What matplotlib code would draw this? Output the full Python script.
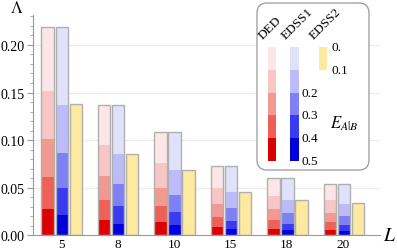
import numpy as np
import matplotlib
matplotlib.use("Agg")
import matplotlib.pyplot as plt
from matplotlib.patches import FancyBboxPatch
from matplotlib.ticker import MultipleLocator


# =========================
# Data
# =========================

L_VALUES = ["5", "8", "10", "15", "18", "20"]
E_THRESHOLDS = ["0.", "0.1", "0.2", "0.3", "0.4", "0.5"]

# Lambda for E_{A|B} >= 0, 0.1, 0.2, 0.3, 0.4 (one row per threshold)
DED = [
    [0.2187, 0.1366, 0.1086, 0.0728, 0.0605, 0.0539],
    [0.1518, 0.0945, 0.0756, 0.0500, 0.0419, 0.0374],
    [0.1016, 0.0623, 0.0503, 0.0335, 0.0276, 0.0240],
    [0.0616, 0.0374, 0.0307, 0.0195, 0.0163, 0.0145],
    [0.0276, 0.0163, 0.0139, 0.0086, 0.0068, 0.0061],
]

EDSS1 = [
    [0.2187, 0.1366, 0.1086, 0.0728, 0.0605, 0.0539],
    [0.1374, 0.0855, 0.0686, 0.0455, 0.0374, 0.0335],
    [0.0865, 0.0535, 0.0426, 0.0286, 0.0237, 0.0208],
    [0.0497, 0.0307, 0.0244, 0.0156, 0.0124, 0.0110],
    [0.0216, 0.0124, 0.0107, 0.0065, 0.0055, 0.0047],
]

EDSS2 = [0.1380, 0.0858, 0.0686, 0.0455, 0.0374, 0.0337]


# =========================
# Styles
# =========================

RED_SHADES = ["#fde6e7", "#f9c6c6", "#f29a92", "#ee6058", "#dd0000"]
BLUE_SHADES = ["#e0e1fa", "#bcbcfb", "#8080f6", "#3a3af0", "#0000dd"]
YELLOW = "#fde9a0"
EDGE = "#b0b0b0"

plt.rcParams["font.family"] = ["Liberation Serif", "DejaVu Serif"]
plt.rcParams["mathtext.fontset"] = "stix"

fig = plt.figure(figsize=(3.97, 2.51), dpi=100)
ax = fig.add_axes([0.083, 0.058, 0.874, 0.877])

x = np.arange(len(L_VALUES))
width = 0.22
offsets = [-0.24, 0.01, 0.26]

# overlaid bars: tallest (lightest) first
for level, color in zip(DED, RED_SHADES):
    ax.bar(x + offsets[0], level, width, color=color, linewidth=0, zorder=2)
for level, color in zip(EDSS1, BLUE_SHADES):
    ax.bar(x + offsets[1], level, width, color=color, linewidth=0, zorder=2)
ax.bar(x + offsets[2], EDSS2, width, color=YELLOW, linewidth=0, zorder=2)

# outline around each bar
ax.bar(x + offsets[0], DED[0], width, fill=False, edgecolor=EDGE, linewidth=1, zorder=3)
ax.bar(x + offsets[1], EDSS1[0], width, fill=False, edgecolor=EDGE, linewidth=1, zorder=3)
ax.bar(x + offsets[2], EDSS2, width, fill=False, edgecolor=EDGE, linewidth=1, zorder=3)

ax.set_xlim(-0.5, 5.65)
ax.set_ylim(0, 0.231)
ax.set_xticks(x)
ax.set_xticklabels(L_VALUES, fontsize=9.5)
ax.yaxis.set_major_locator(MultipleLocator(0.05))
ax.yaxis.set_minor_locator(MultipleLocator(0.01))
ax.yaxis.set_major_formatter(plt.FuncFormatter(lambda v, p: f"{v:.2f}"))
ax.tick_params(axis="y", which="major", length=4, width=0.8, color="#999999",
               labelsize=10, pad=2)
ax.tick_params(axis="y", which="minor", length=2, width=0.6, color="#999999")
ax.tick_params(axis="x", length=0, pad=1.5)

ax.grid(axis="y", which="major", color="#ececec", linewidth=0.8, zorder=0)
ax.set_axisbelow(True)
for side in ["top", "right"]:
    ax.spines[side].set_visible(False)
for side in ["left", "bottom"]:
    ax.spines[side].set_color("#999999")
    ax.spines[side].set_linewidth(0.8)

ax.text(-0.046, 1.035, r"$\Lambda$", transform=ax.transAxes, fontsize=12,
        ha="center", va="center")
ax.text(1.029, 0.0, r"$L$", transform=ax.transAxes, fontsize=14,
        ha="center", va="center")

# =========================
# Legend panel (pixel-like coordinates)
# =========================

lax = fig.add_axes([256 / 397, 1 - 172 / 251, 114 / 397, 169 / 251])
lax.set_xlim(256, 370)
lax.set_ylim(172, 3)
lax.axis("off")

box = FancyBboxPatch((257, 4), 112, 167, boxstyle="round,pad=0,rounding_size=10",
                     facecolor="white", edgecolor="#999999", linewidth=0.9)
lax.add_patch(box)

seg = 22.8
top = 48
for i, color in enumerate(RED_SHADES):
    lax.bar(272, seg, 8, bottom=top + i * seg, color=color, linewidth=0)
for i, color in enumerate(BLUE_SHADES):
    lax.bar(294.3, seg, 8.5, bottom=top + i * seg, color=color, linewidth=0)
lax.bar(322.8, seg, 7.5, bottom=top, color=YELLOW, linewidth=0)

for name, xs in zip(["DED", "EDSS1", "EDSS2"], [265, 288, 316]):
    lax.text(xs, 42, name, rotation=45, rotation_mode="anchor",
             ha="left", va="bottom", fontsize=9.5)

for i, label in enumerate(E_THRESHOLDS):
    lx = 331 if i < 2 else 302
    lax.text(lx, top + i * seg, label, ha="left", va="center", fontsize=9.5)

lax.text(330, 124, r"$E_{A|B}$", ha="left", va="center", fontsize=12)

fig.savefig("out.png", dpi=100)
